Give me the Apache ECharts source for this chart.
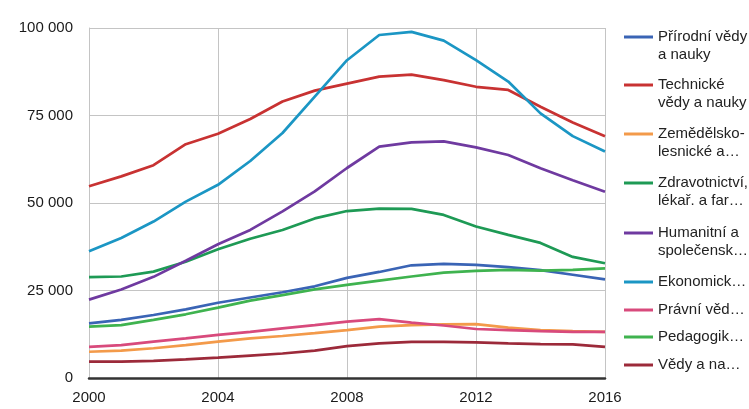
<!DOCTYPE html>
<html>
<head>
<meta charset="utf-8">
<script src="https://cdn.jsdelivr.net/npm/echarts@6/dist/echarts.min.js"></script>
<style>
  html, body { margin: 0; padding: 0; background: #fff; }
  #chart { width: 749px; height: 409px; }
</style>
</head>
<body>
<div id="chart"></div>
<script>
const years = [2000,2001,2002,2003,2004,2005,2006,2007,2008,2009,2010,2011,2012,2013,2014,2015,2016];

const seriesNames = [
  "Přírodní vědy a nauky",
  "Technické vědy a nauky",
  "Zemědělsko-lesnické a veterinární vědy a nauky",
  "Zdravotnictví, lékař. a farmaceutické vědy a nauky",
  "Humanitní a společenské vědy a nauky",
  "Ekonomické vědy a nauky",
  "Právní vědy a nauky",
  "Pedagogika, učitelství a sociální péče",
  "Vědy a nauky o kultuře a umění"
];
const legendLabels = [
  "Přírodní vědy\na nauky",
  "Technické\nvědy a nauky",
  "Zemědělsko-\nlesnické a…",
  "Zdravotnictví,\nlékař. a far…",
  "Humanitní a\nspolečensk…",
  "Ekonomick…",
  "Právní věd…",
  "Pedagogik…",
  "Vědy a na…"
];
const colors = ["#3a64b5","#c83232","#f39a4a","#1e9a55","#6f3aa0","#1b96c4","#d84a7c","#3fb34f","#9c2a3a"];

const prirodni      = [15600,16600,18000,19600,21500,23000,24500,26200,28600,30300,32200,32600,32300,31700,30800,29500,28200];
const technicke     = [54800,57600,60800,66800,69800,74000,79000,82100,84100,86100,86700,85100,83200,82300,77500,73000,69100];
const zemedelske    = [7500,7800,8500,9400,10400,11300,12000,12800,13700,14700,15100,15300,15400,14400,13700,13400,13200];
const zdravotnictvi = [28800,29000,30400,33200,36800,39800,42300,45600,47700,48400,48300,46600,43300,40900,38600,34600,32800];
const humanitni     = [22400,25300,28900,33500,38200,42300,47600,53300,60000,66100,67300,67600,65900,63700,59900,56500,53200];
const ekonomicke    = [36200,40000,44700,50400,55200,62000,70000,80400,90800,98000,98900,96400,90800,84700,75600,69100,64700];
const pravni        = [8900,9400,10400,11300,12300,13200,14200,15100,16100,16800,15800,15000,14000,13700,13400,13200,13200];
const pedagogicke   = [14700,15100,16600,18200,20100,22100,23700,25300,26600,27800,29000,30100,30600,30900,30700,30900,31300];
const vedyKultura   = [4700,4700,4900,5300,5800,6400,7000,7800,9100,9900,10300,10300,10200,9900,9700,9600,8900];

const allValues = [prirodni, technicke, zemedelske, zdravotnictvi, humanitni, ekonomicke, pravni, pedagogicke, vedyKultura];

const yTickValues = [0, 25000, 50000, 75000, 100000];
const yTickLabels = ["0", "25 000", "50 000", "75 000", "100 000"];
const xTickLabels = ["2000", "2004", "2008", "2012", "2016"];

const legendIconCenters = [37, 85, 134, 183, 233, 282, 310, 337, 365];

const FONT = "'Liberation Sans', Arial, sans-serif";
const LH = 18;

const series = seriesNames.map((name, i) => ({
  name: name,
  type: 'line',
  symbol: 'none',
  data: years.map((y, j) => [y, allValues[i][j]]),
  lineStyle: { width: 2.7, color: colors[i] },
  itemStyle: { color: colors[i] },
  z: 2
}));

const legends = seriesNames.map((name, i) => {
  const twoLine = legendLabels[i].indexOf("\n") >= 0;
  return {
    data: [name],
    left: 624,
    top: legendIconCenters[i] - (twoLine ? LH * 1.5 : LH / 2),
    orient: 'vertical',
    padding: 0,
    itemGap: 0,
    itemWidth: 29,
    itemHeight: 3,
    icon: 'rect',
    selectedMode: false,
    // leading blank line keeps the first text line level with the swatch
    formatter: twoLine ? "\n" + legendLabels[i] : legendLabels[i],
    textStyle: {
      fontFamily: FONT,
      fontSize: 15,
      lineHeight: LH,
      color: '#222'
    }
  };
});

const chart = echarts.init(document.getElementById('chart'), null, { renderer: 'canvas' });
chart.setOption({
  animation: false,
  backgroundColor: '#ffffff',
  grid: { left: 89, right: 144, top: 28, bottom: 31, containLabel: false },
  legend: legends,
  xAxis: {
    type: 'value',
    min: 2000,
    max: 2016,
    interval: 4,
    axisLine: { show: true, lineStyle: { color: '#333', width: 2.5 } },
    axisTick: { show: false },
    splitLine: { show: true, lineStyle: { color: '#c4c4c4', width: 1 } },
    axisLabel: {
      fontFamily: FONT,
      fontSize: 15,
      color: '#1a1a1a',
      margin: 12,
      formatter: v => { const k = xTickLabels.indexOf(String(v)); return k >= 0 ? xTickLabels[k] : ''; }
    }
  },
  yAxis: {
    type: 'value',
    min: 0,
    max: 100000,
    interval: 25000,
    axisLine: { show: true, lineStyle: { color: '#c4c4c4', width: 1 } },
    axisTick: { show: false },
    splitLine: { show: true, lineStyle: { color: '#c4c4c4', width: 1 } },
    axisLabel: {
      fontFamily: FONT,
      fontSize: 15,
      color: '#1a1a1a',
      margin: 16,
      formatter: v => { const k = yTickValues.indexOf(v); return k >= 0 ? yTickLabels[k] : ''; }
    }
  },
  series: series
});
</script>
</body>
</html>
